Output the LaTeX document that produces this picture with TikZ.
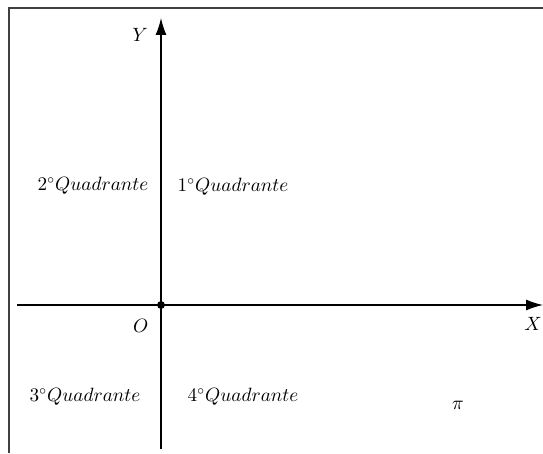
\documentclass[tikz,border=0pt]{standalone}
\usetikzlibrary{arrows.meta, positioning}
\begin{document}
\begin{tikzpicture}[
  x=0.02cm, y=-0.02cm,
  every node/.style={font=\fontsize{10.7}{13}\selectfont},
  axis/.style={-{Latex[length=3.4mm, width=2.2mm]}, line width=0.75pt},
  frame/.style={draw=black!75, line width=0.6pt},
  quad/.style={inner sep=1pt},
]
  \useasboundingbox (0,0) rectangle (543,453);

  % Frame (top and left edges)
  \coordinate (fr1) at (543,8);
  \coordinate (fr2) at (9,8);
  \coordinate (fr3) at (9,453);
  \draw[frame] (fr1) -- (fr2) -- (fr3);

  % Axes
  \coordinate (xs) at (17,305);
  \coordinate (xe) at (543,305);
  \coordinate (ys) at (161,449);
  \coordinate (ye) at (161,18);
  \draw[axis] (xs) -- (xe);
  \draw[axis] (ys) -- (ye);
  \node[fill, circle, inner sep=0pt, minimum size=4.5pt] (orig) at (161,305) {};

  % Axis labels
  \node[below left=3pt and 2pt of orig] (lO) {$O$};
  \node (lX) at (533,324) {$X$};
  \node (lY) at (140,35) {$Y$};

  % Quadrants
  \node[quad] (q1) at (233,187) {$1^{\circ}Quadrante$};
  \node[quad] (q2) at (93,186) {$2^{\circ}Quadrante$};
  \node[quad] (q3) at (85,397) {$3^{\circ}Quadrante$};
  \node[quad] (q4) at (243,397) {$4^{\circ}Quadrante$};
  \node (pi) at (458,405) {$\pi$};
\end{tikzpicture}
\end{document}
